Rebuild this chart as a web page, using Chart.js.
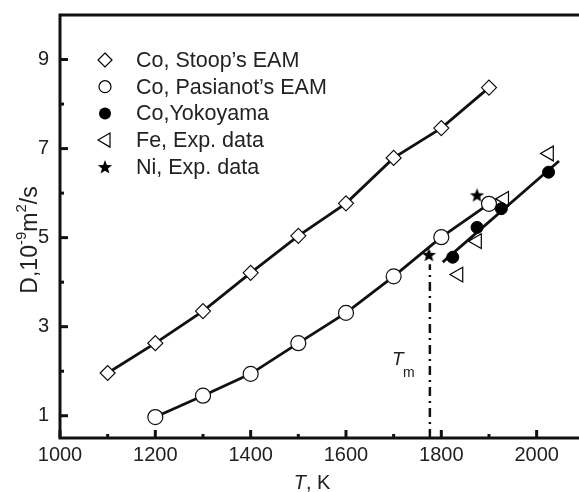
<!DOCTYPE html>
<html>
<head>
<meta charset="utf-8">
<script src="https://cdn.jsdelivr.net/npm/chart.js@4/dist/chart.umd.min.js"></script>
<style>
  html, body { margin: 0; padding: 0; background: #fff; overflow: hidden; }
  #chart { display: block; }
</style>
</head>
<body>
<canvas id="chart" width="594" height="492"></canvas>
<script>
// temperatures (K) and diffusion coefficients (10^-9 m^2/s)
const tempStoop = [1100, 1200, 1300, 1400, 1500, 1600, 1700, 1800, 1900];
const dStoop = [1.96, 2.63, 3.35, 4.21, 5.04, 5.77, 6.79, 7.46, 8.37];

const tempPasianot = [1200, 1300, 1400, 1500, 1600, 1700, 1800, 1900];
const dPasianot = [0.97, 1.45, 1.94, 2.63, 3.31, 4.13, 5.01, 5.76];

const tempYoko = [1824, 1875, 1926, 2025];
const dYoko = [4.56, 5.23, 5.65, 6.47];

const tempFe = [1836, 1875, 1932, 2026];
const dFe = [4.17, 4.92, 5.87, 6.89];

const tempNi = [1774, 1875];
const dNi = [4.62, 5.96];

// linear fit through Yokoyama data
const tempFit = [1803, 2047];
const dFit = [4.45, 6.72];

// melting point marker
const tempTm = [1776, 1776];
const dTm = [0.5, 4.4];

const xMajor = [1000, 1200, 1400, 1600, 1800, 2000];
const xMinor = [1100, 1300, 1500, 1700, 1900];
const yMajor = [1, 3, 5, 7, 9];
const yMinor = [2, 4, 6, 8];

const legendLabels = ["Co, Stoop\u2019s EAM", "Co, Pasianot\u2019s EAM", "Co,Yokoyama", "Fe, Exp. data", "Ni, Exp. data"];

const FONT = "'Liberation Sans', Arial, Helvetica, sans-serif";

function pts(xs, ys) {
  return xs.map((x, i) => ({ x: x, y: ys[i] }));
}

// filled five point star
function makeStar(r) {
  const c = document.createElement("canvas");
  const s = Math.ceil(r * 2 + 2);
  c.width = s;
  c.height = s;
  const g = c.getContext("2d");
  starPath(g, s / 2, s / 2 + r * 0.1, r);
  g.fillStyle = "#000";
  g.fill();
  return c;
}
function starPath(g, cx, cy, r) {
  g.beginPath();
  for (let i = 0; i < 10; i++) {
    const rr = i % 2 === 0 ? r : r * 0.42;
    const a = -Math.PI / 2 + i * Math.PI / 5;
    g.lineTo(cx + rr * Math.cos(a), cy + rr * Math.sin(a));
  }
  g.closePath();
}
const starImg = makeStar(7.5);

const frame = {
  id: "frame",
  afterDatasetsDraw(chart) {
    const ctx = chart.ctx;
    const a = chart.chartArea;
    const xs = chart.scales.x;
    const ys = chart.scales.y;
    ctx.save();
    ctx.strokeStyle = "#111";
    ctx.lineWidth = 3;
    ctx.lineCap = "butt";
    // ticks pointing inward
    const tick = (x1, y1, x2, y2) => {
      ctx.beginPath();
      ctx.moveTo(x1, y1);
      ctx.lineTo(x2, y2);
      ctx.stroke();
    };
    xMajor.forEach(v => { const p = xs.getPixelForValue(v); tick(p, a.bottom, p, a.bottom - 8); });
    xMinor.forEach(v => { const p = xs.getPixelForValue(v); tick(p, a.bottom, p, a.bottom - 4); });
    yMajor.forEach(v => { const p = ys.getPixelForValue(v); tick(a.left, p, a.left + 8, p); });
    yMinor.forEach(v => { const p = ys.getPixelForValue(v); tick(a.left, p, a.left + 4, p); });
    ctx.strokeRect(a.left, a.top, a.right - a.left, a.bottom - a.top);

    // legend
    const lx = 105, ly = 60, step = 26.7;
    ctx.lineWidth = 1.2;
    ctx.strokeStyle = "#000";
    ctx.fillStyle = "#fff";
    // diamond
    ctx.beginPath();
    ctx.moveTo(lx, ly - 7); ctx.lineTo(lx + 7, ly); ctx.lineTo(lx, ly + 7); ctx.lineTo(lx - 7, ly);
    ctx.closePath(); ctx.fill(); ctx.stroke();
    // open circle
    ctx.beginPath(); ctx.arc(lx, ly + step, 6, 0, Math.PI * 2); ctx.fill(); ctx.stroke();
    // filled circle
    ctx.fillStyle = "#000";
    ctx.beginPath(); ctx.arc(lx, ly + step * 2, 6, 0, Math.PI * 2); ctx.fill();
    // left triangle
    const ty = ly + step * 3;
    ctx.beginPath();
    ctx.moveTo(lx - 7, ty); ctx.lineTo(lx + 5, ty - 7); ctx.lineTo(lx + 5, ty + 7);
    ctx.closePath(); ctx.stroke();
    // star
    starPath(ctx, lx, ly + step * 4 + 0.7, 7.5);
    ctx.fill();

    ctx.fillStyle = "#222";
    ctx.font = "21.5px " + FONT;
    ctx.textBaseline = "middle";
    ctx.textAlign = "left";
    legendLabels.forEach((t, i) => ctx.fillText(t, 136, ly + step * i + 1));

    // Tm label
    ctx.font = "italic 19px " + FONT;
    ctx.fillText("T", 392, 360);
    ctx.font = "14px " + FONT;
    ctx.fillText("m", 403, 373);

    // x title
    ctx.font = "italic 20px " + FONT;
    const w1 = ctx.measureText("T").width;
    ctx.font = "20px " + FONT;
    const w2 = ctx.measureText(", K").width;
    let sx = 312 - (w1 + w2) / 2;
    ctx.font = "italic 20px " + FONT;
    ctx.fillText("T", sx, 483);
    ctx.font = "20px " + FONT;
    ctx.fillText(", K", sx + w1, 483);

    // y title with superscripts
    ctx.translate(31, 240);
    ctx.rotate(-Math.PI / 2);
    const parts = [["D,10", 23, 0], ["-9", 15, -9], ["m", 23, 0], ["2", 15, -9], ["/s", 23, 0]];
    let total = 0;
    parts.forEach(p => { ctx.font = p[1] + "px " + FONT; total += ctx.measureText(p[0]).width; });
    let px = -total / 2;
    parts.forEach(p => {
      ctx.font = p[1] + "px " + FONT;
      ctx.fillText(p[0], px, p[2]);
      px += ctx.measureText(p[0]).width;
    });
    ctx.restore();
  }
};

new Chart(document.getElementById("chart"), {
  type: "scatter",
  data: {
    datasets: [
      {
        label: legendLabels[4],
        data: pts(tempNi, dNi),
        pointStyle: starImg,
        showLine: false
      },
      {
        label: legendLabels[3],
        data: pts(tempFe, dFe),
        pointStyle: "triangle",
        rotation: -90,
        pointRadius: 8.5,
        backgroundColor: "rgba(255,255,255,0)",
        borderColor: "#000",
        pointBorderWidth: 1.2,
        showLine: false
      },
      {
        label: legendLabels[2],
        data: pts(tempYoko, dYoko),
        pointStyle: "circle",
        pointRadius: 6,
        backgroundColor: "#000",
        borderColor: "#000",
        pointBorderWidth: 1,
        showLine: false
      },
      {
        label: legendLabels[1],
        data: pts(tempPasianot, dPasianot),
        pointStyle: "circle",
        pointRadius: 7.5,
        backgroundColor: "#fff",
        borderColor: "#111",
        pointBorderWidth: 1.2,
        borderWidth: 2.8,
        showLine: true,
        tension: 0
      },
      {
        label: legendLabels[0],
        data: pts(tempStoop, dStoop),
        pointStyle: "rectRot",
        pointRadius: 7.5,
        backgroundColor: "#fff",
        borderColor: "#111",
        pointBorderWidth: 1.2,
        borderWidth: 2.8,
        showLine: true,
        tension: 0
      },
      {
        label: "fit",
        data: pts(tempFit, dFit),
        pointRadius: 0,
        borderColor: "#111",
        borderWidth: 2.8,
        showLine: true
      },
      {
        label: "Tm",
        data: pts(tempTm, dTm),
        pointRadius: 0,
        borderColor: "#111",
        borderWidth: 2.5,
        borderDash: [9, 5, 2, 5],
        showLine: true
      }
    ]
  },
  options: {
    responsive: false,
    animation: false,
    layout: { padding: { top: 8, right: 8, left: 0, bottom: 0 } },
    plugins: { legend: { display: false }, tooltip: { enabled: false } },
    scales: {
      x: {
        type: "linear",
        min: 1000,
        max: 2100,
        grid: { display: false },
        border: { display: false },
        afterFit: s => { s.height = 54; },
        afterBuildTicks: s => { s.ticks = xMajor.map(v => ({ value: v })); },
        ticks: {
          color: "#222",
          padding: -3,
          font: { family: FONT, size: 20 },
          callback: v => String(v)
        }
      },
      y: {
        type: "linear",
        min: 0.5,
        max: 10,
        grid: { display: false },
        border: { display: false },
        afterFit: s => { s.width = 60; },
        afterBuildTicks: s => { s.ticks = yMajor.map(v => ({ value: v })); },
        ticks: {
          color: "#222",
          padding: 3,
          font: { family: FONT, size: 20 },
          callback: v => String(v)
        }
      }
    }
  },
  plugins: [frame]
});
</script>
</body>
</html>
